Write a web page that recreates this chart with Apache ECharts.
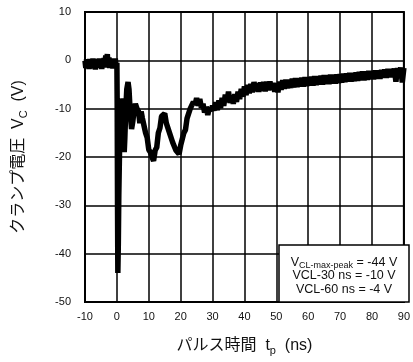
<!DOCTYPE html>
<html>
<head>
<meta charset="utf-8">
<script src="https://cdn.jsdelivr.net/npm/echarts@6/dist/echarts.min.js"></script>
<style>
  html, body { margin: 0; padding: 0; background: #fff; }
  #chart { width: 413px; height: 362px; }
</style>
</head>
<body>
<div id="chart"></div>
<script>
// pulse time (ns) and clamp voltage (V)
const times = [
  -10, -9.75, -9.5, -9.25, -9, -8.75, -8.5, -8.25, -8, -7.75, -7.5, -7.25, -7, -6.75, -6.5, -6.25,
  -6, -5.75, -5.5, -5.25, -5, -4.75, -4.5, -4.25, -4, -3.75, -3.5, -3.25, -3, -2.75, -2.5, -2.25,
  -2, -1.75, -1.5, -1.25, -1, -0.75, -0.5, -0.25, 0,
  0.1, 0.2, 0.3, 0.45, 0.6, 0.8, 1.0, 1.2, 1.5, 1.8, 2.0, 2.3, 2.5, 2.8, 3.1, 3.5, 3.8, 4.2, 4.6,
  5.0, 5.4, 5.8, 6.3, 6.8, 7.2, 7.6, 8.0, 8.5, 9.0, 9.5, 10.0, 10.5, 11.0, 11.5, 12.0, 12.5, 13.0,
  13.5, 14.0, 14.5, 15.0, 15.5, 16.0, 16.5, 17.0, 17.5, 18.0, 18.5, 19.0, 19.5, 20.0, 20.5, 21.0,
  21.5, 22.0, 22.5, 23.0, 23.5, 24.0, 24.5, 25.0, 25.5, 26, 26.5, 27, 27.5, 28, 28.5, 29, 29.5, 30,
  30.5, 31, 31.5, 32, 32.5, 33, 33.5, 34, 34.5, 35, 35.5, 36, 36.5, 37, 37.5, 38, 38.5, 39, 39.5, 40,
  40.5, 41, 41.5, 42, 42.5, 43, 43.5, 44, 44.5, 45, 45.5, 46, 46.5, 47, 47.5, 48, 48.5, 49, 49.5, 50,
  50.5, 51, 51.5, 52, 52.5, 53, 53.5, 54, 54.5, 55, 55.5, 56, 56.5, 57, 57.5, 58, 58.5, 59, 59.5, 60,
  60.5, 61, 61.5, 62, 62.5, 63, 63.5, 64, 64.5, 65, 65.5, 66, 66.5, 67, 67.5, 68, 68.5, 69, 69.5, 70,
  70.5, 71, 71.5, 72, 72.5, 73, 73.5, 74, 74.5, 75, 75.5, 76, 76.5, 77, 77.5, 78, 78.5, 79, 79.5, 80,
  80.5, 81, 81.5, 82, 82.5, 83, 83.5, 84, 84.5, 85, 85.5, 86, 86.5, 87, 87.5, 88, 88.5, 89, 89.5, 90
];
const volts = [
  -0.1, -1.6, 0.2, -1.5, 0.0, -1.8, 0.3, -1.4, -0.2, -1.7, 0.4, -1.5, 0.1, -1.9, 0.3, -1.4,
  0.0, -1.6, 0.4, -1.5, 0.2, -1.8, 0.3, -1.3, 0.5, -1.5, 1.0, -1.2, 1.3, -1.4, 0.6, -1.6,
  0.4, -1.5, 0.3, -1.7, 0.2, -1.4, 0.4, -1.5, -0.5,
  -10, -30, -44, -38, -28, -20, -12, -9, -8, -8.5, -12, -19, -16, -10, -6, -4.5, -6, -11, -14.2,
  -12.6, -10.4, -9.0, -10.0, -10.6, -13.0, -10.6, -12.0, -11.6, -15.0, -16.0, -18.5, -19.0, -20.0, -20.8, -18.6, -18.0, -15.0,
  -14.0, -11.6, -11.8, -11.0, -13.0, -13.2, -15.0, -15.2, -17.0, -17.2, -18.6, -18.2, -19.4, -17.6, -17.4, -15.0,
  -14.4, -12.0, -12.0, -10.0, -10.0, -8.6, -9.2, -7.8, -9.4, -8.0, -9.8, -9.0, -10.8, -9.6, -11.3, -9.8, -10.5, -9.4,
  -10.4, -8.7, -10.3, -8.3, -9.9, -7.8, -9.4, -7.1, -8.6, -6.5, -8.8, -7.2, -9.0, -7.0, -8.6, -6.5, -8.0, -5.9, -7.5, -5.4,
  -7.2, -5.1, -6.8, -4.9, -6.6, -4.5, -6.4, -4.8, -6.5, -4.6, -6.3, -4.5, -6.4, -4.4, -6.2, -4.4, -6.1, -4.7, -6.5, -4.8,
  -6.6, -4.4, -6.1, -4.1, -5.9, -4.0, -5.8, -4.0, -5.7, -3.8, -5.6, -3.7, -5.5, -3.7, -5.4, -3.6, -5.4, -3.5, -5.3, -3.5,
  -5.2, -3.4, -5.2, -3.3, -5.1, -3.3, -5.0, -3.2, -5.0, -3.1, -4.9, -3.1, -4.9, -3.0, -4.8, -3.0, -4.8, -2.9, -4.7, -2.9,
  -4.6, -2.8, -4.5, -2.7, -4.4, -2.6, -4.4, -2.6, -4.3, -2.5, -4.2, -2.4, -4.1, -2.3, -4.1, -2.3, -4.0, -2.2, -3.9, -2.2,
  -3.9, -2.1, -3.8, -2.1, -3.8, -2.0, -3.6, -1.9, -3.6, -1.8, -3.5, -1.8, -3.5, -1.7, -4.4, -1.6, -3.4, -1.5, -4.6, -1.6
];
const xTicks = { min: -10, max: 90, interval: 10 };
const yTicks = { min: -50, max: 10, interval: 10 };
const noteLines = ['V{s|CL-max-peak} = -44 V', 'VCL-30 ns = -10 V', 'VCL-60 ns = -4 V'];

const font = '"Liberation Sans", "Noto Sans CJK JP", sans-serif';
const chart = echarts.init(document.getElementById('chart'));

chart.setOption({
  animation: false,
  backgroundColor: '#fff',
  textStyle: { fontFamily: font },
  grid: {
    left: 85, right: 4, top: 12, bottom: 60,
    show: true, borderColor: '#000', borderWidth: 2, backgroundColor: 'transparent'
  },
  xAxis: {
    type: 'value',
    min: xTicks.min, max: xTicks.max, interval: xTicks.interval,
    axisLine: { show: true, onZero: false, lineStyle: { color: '#000', width: 2 } },
    axisTick: { show: false },
    splitLine: { show: true, lineStyle: { color: '#000', width: 1.5 } },
    axisLabel: { color: '#111', fontSize: 11, margin: 9, fontFamily: font },
    name: '{a|パルス時間  t}{s|p}{a|  (ns)}',
    nameLocation: 'middle',
    nameGap: 34,
    nameTextStyle: {
      rich: {
        a: { fontSize: 16, color: '#111', fontFamily: font },
        s: { fontSize: 11, color: '#111', fontFamily: font, padding: [9, 0, 0, 0] }
      }
    }
  },
  yAxis: {
    type: 'value',
    min: yTicks.min, max: yTicks.max, interval: yTicks.interval,
    axisLine: { show: true, onZero: false, lineStyle: { color: '#000', width: 2 } },
    axisTick: { show: false },
    splitLine: { show: true, lineStyle: { color: '#000', width: 1.5 } },
    axisLabel: { color: '#111', fontSize: 11, margin: 14, fontFamily: font },
    name: '{a|クランプ電圧  V}{s|C}{a|  (V)}',
    nameLocation: 'middle',
    nameRotate: 90,
    nameGap: 56,
    nameTextStyle: {
      rich: {
        a: { fontSize: 16, color: '#111', fontFamily: font },
        s: { fontSize: 11, color: '#111', fontFamily: font, padding: [9, 0, 0, 0] }
      }
    }
  },
  graphic: [
    {
      type: 'rect',
      shape: { x: 279, y: 245, width: 130, height: 57 },
      style: { fill: '#fff', stroke: '#000', lineWidth: 1.5 },
      z: 10
    },
    ...noteLines.map((t, i) => ({
      type: 'text',
      x: 344, y: [263, 276, 290][i],
      z: 11,
      style: {
        text: t,
        align: 'center', verticalAlign: 'middle',
        fontSize: 12.5, fontFamily: font, fill: '#111',
        rich: { s: { fontSize: 9, fontFamily: font, fill: '#111', padding: [6, 0, 0, 0] } }
      }
    }))
  ],
  series: [{
    type: 'line',
    data: times.map((t, i) => [t, volts[i]]),
    showSymbol: false,
    lineStyle: { color: '#000', width: 5.5 },
    z: 5
  }]
});
</script>
</body>
</html>
